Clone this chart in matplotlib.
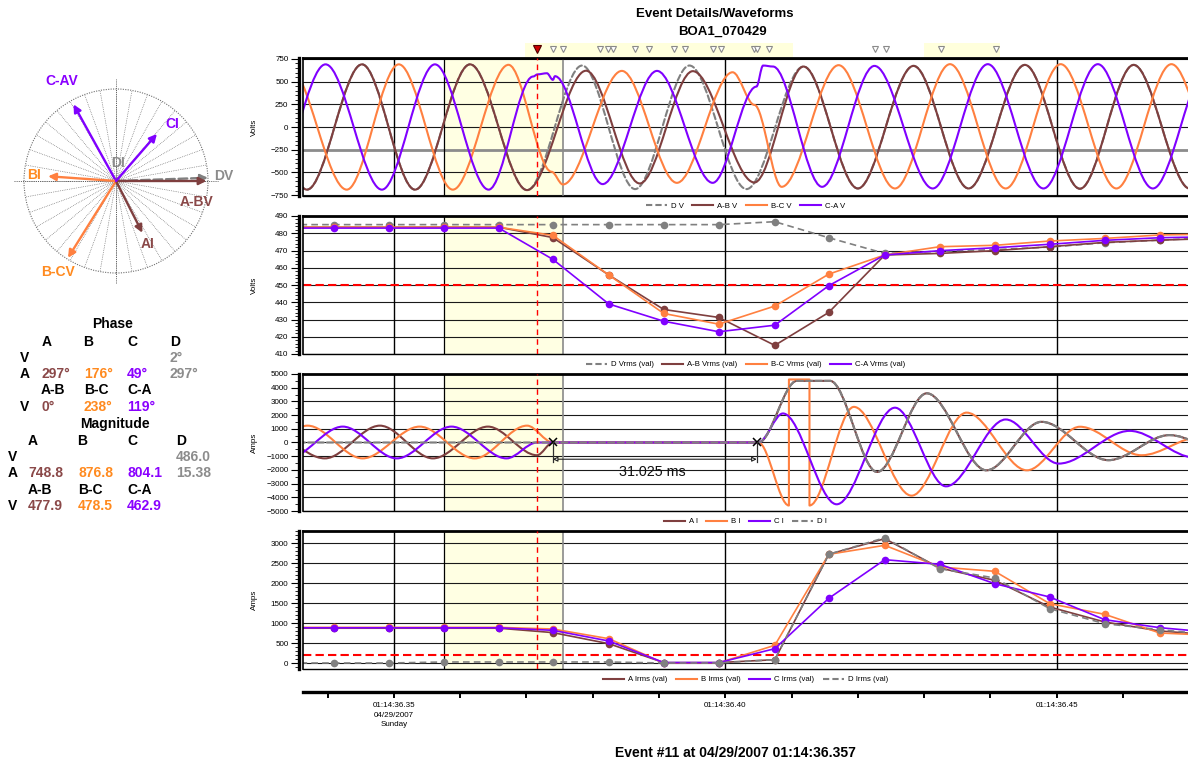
import numpy as np
import matplotlib
matplotlib.use("Agg")
import matplotlib.pyplot as plt
from matplotlib.path import Path
from matplotlib.patches import PathPatch, Circle
from matplotlib.lines import Line2D
from matplotlib.ticker import MultipleLocator, FixedLocator

plt.rcParams['font.family'] = ['Liberation Sans', 'DejaVu Sans']

# ---------------- data (time in ms after 01:14:36.35) ----------------
time_tick_ms = [0, 50, 100]
time_tick_labels = ['01:14:36.35\n04/29/2007\nSunday', '01:14:36.40', '01:14:36.45']
shade_ms = [7.5, 25.5]
trigger_ms = 21.6
event_marks_ms = [23.98, 25.49, 31.07, 32.28, 33.03, 36.35, 38.46, 42.23, 43.89,
                  48.11, 49.32, 54.3, 54.75, 56.56, 72.55, 74.21, 82.5, 90.8]

# Panel 1: voltage waveform extrema (ms, V)
dv_t = [-21.4, -13.1, -4.8, 3.2, 11.5, 20.1, 28.4, 36.4, 44.6, 53.2, 61.8, 70.0, 78.4, 86.7, 95.2, 103.5, 111.6, 120.1]
dv_v = [690, -690, 690, -690, 690, -695, 677, -684, 677, -684, 666, -677, 673, -677, 684, -680, 684, -680]
abv_t = [-21.4, -13.1, -4.8, 3.2, 11.5, 20.1, 29.0, 37.1, 45.1, 54.4, 61.8, 70.0, 78.4, 86.7, 95.2, 103.5, 111.6, 120.1]
abv_v = [690, -690, 690, -690, 690, -695, 620, -622, 615, -611, 666, -677, 673, -677, 684, -680, 684, -680]
bcv_t = [-16.0, -7.1, 0.75, 8.9, 17.3, 23.8, 25.5, 34.4, 42.7, 51.1, 54.4, 58.5, 67.1, 75.6, 83.9, 92.3, 100.6, 109.0, 117.3, 125.8]
bcv_v = [690, -690, 690, -690, 685, -493, -633, 618, -615, 603, 243, -659, 681, -677, 692, -677, 692, -677, 692, -677]
cav_t = [-18.6, -10.3, -1.8, 6.2, 14.3, 21.0, 21.7, 23.1, 24.0, 24.3, 31.5, 39.7, 48.1, 54.7, 55.7, 57.2, 64.6, 72.5, 81.3, 89.6, 98.0, 106.2, 114.5, 122.9]
cav_v = [-690, 690, -690, 690, -690, 556, 580, 592, 519, 560, -629, 618, -615, 445, 677, 666, -659, 673, -677, 692, -677, 692, -677, 692]

# Panel 2/4: half-cycle RMS values
rms_t = [-17.35, -9.05, -0.75, 7.54, 15.84, 23.98, 32.43, 40.72, 49.02, 57.47, 65.61, 74.06, 82.35, 90.65, 98.94, 107.24, 115.54, 123.84]
dv_rms = [485, 485, 485, 485, 485, 485, 485, 485, 485, 486.7, 477.4, 468.3, 469.5, 470.5, 472.0, 474.5, 476.0, 477.5]
abv_rms = [483.5, 483.5, 483.5, 483.5, 483.5, 477.5, 455.8, 435.8, 431.2, 415.0, 434.1, 467.4, 468.3, 469.9, 472.2, 474.7, 476.0, 477.0]
bcv_rms = [483.5, 483.5, 483.5, 483.5, 483.5, 478.8, 455.8, 433.5, 427.3, 437.8, 456.3, 467.4, 472.2, 473.0, 475.5, 477.0, 479.0, 479.5]
cav_rms = [483.0, 483.0, 483.0, 483.0, 483.0, 464.9, 439.0, 429.0, 422.9, 426.7, 449.6, 467.4, 469.9, 471.6, 473.6, 475.9, 477.4, 478.0]
v_limit = 450

# Panel 3: current waveform extrema (ms, A)
ai_t = [-20.1, -10.4, -2.1, 5.9, 14.2, 21.6, 24.0, 55.0, 60.8, 65.8, 72.9, 80.4, 89.4, 97.7, 107.8, 117.0, 125.3]
ai_v = [1230, -1160, 1230, -1160, 1160, -930, 0, 0, 4500, 4500, -2150, 3590, -2030, 1510, -1290, 540, -600]
bi_t = [-21.4, -13.0, -4.7, 3.9, 12.2, 20.1, 24.0, 55.0, 59.6, 59.6, 62.7, 62.7, 69.4, 78.1, 86.4, 95.5, 103.5, 112.8, 121.6]
bi_v = [-1160, 1230, -1160, 1160, -1160, 1230, 0, 0, -4600, 4600, 4600, -4600, 2600, -3880, 2180, -2030, 1150, -930, 400]
ci_t = [-16.0, -7.7, 0.45, 8.7, 17.0, 21.6, 55.0, 58.7, 66.8, 75.6, 83.3, 92.3, 100.3, 111.0, 120.8]
ci_v = [-1160, 1160, -1160, 1160, -1160, 0, 0, 2120, -4510, 2540, -3200, 1680, -1540, 850, -1100]
di_t = [-20.0, 55.0, 60.8, 65.8, 72.9, 80.4, 89.4, 97.7, 107.8, 117.0, 125.3]
di_v = [0, 0, 4500, 4500, -2150, 3590, -2030, 1510, -1290, 540, -600]
cursor_ms = [23.98, 54.75]
cursor_text = '31.025 ms'

ai_rms = [870, 870, 870, 870, 870, 760, 483, 10, 10, 83, 2717, 3108, 2375, 2067, 1400, 1025, 800, 700]
bi_rms = [890, 890, 890, 890, 890, 850, 608, 0, 5, 442, 2717, 2942, 2400, 2292, 1483, 1217, 750, 690]
ci_rms = [880, 880, 880, 880, 880, 817, 550, 10, 10, 358, 1617, 2583, 2467, 1983, 1650, 1083, 883, 760]
di_rms = [0, 0, 0, 25, 25, 25, 25, 0, 0, 83, 2717, 3133, 2358, 2125, 1358, 983, 833, 700]
i_limit = 200

# Phasor table
phase_cols = ['A', 'B', 'C', 'D']
ll_cols = ['A-B', 'B-C', 'C-A']
phase_dv = 2
phase_i = [297, 176, 49, 297]
phase_ll = [0, 238, 119]
mag_dv = 486.0
mag_i = [748.8, 876.8, 804.1, 15.38]
mag_ll = [477.9, 478.5, 462.9]

# ---------------- styling ----------------
BROWN = '#7f3f3f'
ORANGE = '#ff8040'
PURPLE = '#8000ff'
GRAY = '#808080'
TBROWN = '#8a4848'
TORANGE = '#ff8a1f'
TPURPLE = '#8a00ff'
TGRAY = '#8c8c8c'

W, H = 1188, 765
PX_L, PX_R = 303, 1188
XLIM = (-13.7, 119.8)

fig = plt.figure(figsize=(W / 100, H / 100), dpi=100)
fig.patch.set_facecolor('white')


def fx(x):
    return x / W


def fy(y):
    return 1 - y / H


def add_panel(top, bot):
    return fig.add_axes([fx(PX_L), fy(bot), (PX_R - PX_L) / W, (bot - top) / H])


def style_panel(ax, ylim, major, minor, ylabel, height_px):
    ax.set_xlim(XLIM)
    ax.set_ylim(ylim)
    ax.yaxis.set_major_locator(MultipleLocator(major))
    ax.yaxis.set_minor_locator(MultipleLocator(minor))
    ax.set_xticks([])
    ax.spines['right'].set_visible(False)
    ax.spines['top'].set_linewidth(2.0)
    ax.spines['bottom'].set_linewidth(1.0)
    ax.spines['left'].set_position(('outward', 3))
    ax.spines['left'].set_linewidth(2.4)
    ax.tick_params(axis='y', which='major', length=6, width=0.8, labelsize=5.8, pad=1.5)
    ax.tick_params(axis='y', which='minor', length=3, width=0.6)
    ax.grid(axis='y', which='major', color='#1a1a1a', lw=0.8)
    ax.set_axisbelow(True)
    ax.plot([0, 0], [0, 1], transform=ax.transAxes, color='black', lw=1.2, clip_on=False, zorder=5)
    ax.axvspan(shade_ms[0], shade_ms[1], color='#ffffe3', zorder=0, lw=0)
    for t, c, lw in [(time_tick_ms[0], 'black', 1.0), (shade_ms[0], 'black', 0.9),
                     (shade_ms[1], '#8a8a8a', 1.2), (time_tick_ms[1], 'black', 1.0),
                     (time_tick_ms[2], 'black', 1.0)]:
        ax.axvline(t, color=c, lw=lw, zorder=1)
    ax.axvline(trigger_ms, color='red', lw=1.0, ls=(0, (4, 3)), zorder=6)
    ax.set_ylabel(ylabel, fontsize=5.8)
    ax.yaxis.set_label_coords(-0.051, 0.5)


def draw_wave(ax, t, v, color, lw=1.5, ls='-', z=3):
    verts = [(t[0], v[0])]
    codes = [Path.MOVETO]
    for i in range(len(t) - 1):
        d = (t[i + 1] - t[i]) / 3.0
        verts += [(t[i] + d, v[i]), (t[i + 1] - d, v[i + 1]), (t[i + 1], v[i + 1])]
        codes += [Path.CURVE4] * 3
    ax.add_patch(PathPatch(Path(verts, codes), fill=False, edgecolor=color, lw=lw,
                           ls=ls, zorder=z, joinstyle='round', capstyle='round'))


def add_legend(ax, entries, height_px):
    handles = [Line2D([], [], color=c, lw=1.5, ls=ls) for c, ls, _ in entries]
    labels = [l for _, _, l in entries]
    ax.legend(handles, labels, loc='center', bbox_to_anchor=(0.5, -10.5 / height_px),
              ncol=4, frameon=False, fontsize=5.6, handlelength=2.7, handletextpad=0.5,
              columnspacing=1.1, borderaxespad=0, borderpad=0)


panels = [(58, 196), (216, 354), (374, 511), (531, 669)]

# ---- Panel 1 ----
top, bot = panels[0]
ax1 = add_panel(top, bot)
style_panel(ax1, (-760, 760), 250, 50, 'Volts', bot - top)
ax1.axhline(-250, color='#8c8c8c', lw=2.0, zorder=0.8)
draw_wave(ax1, dv_t, dv_v, GRAY, ls=(0, (3, 1.5)), z=3)
draw_wave(ax1, abv_t, abv_v, BROWN, z=3.1)
draw_wave(ax1, bcv_t, bcv_v, ORANGE, z=3.2)
draw_wave(ax1, cav_t, cav_v, PURPLE, z=3.3)
add_legend(ax1, [(GRAY, (0, (3, 1.5)), 'D V'), (BROWN, '-', 'A-B V'),
                 (ORANGE, '-', 'B-C V'), (PURPLE, '-', 'C-A V')], bot - top)

# ---- Panel 2 ----
top, bot = panels[1]
ax2 = add_panel(top, bot)
style_panel(ax2, (410, 490), 10, 2, 'Volts', bot - top)
ax2.axhline(v_limit, color='red', lw=1.5, ls=(0, (4, 2)), zorder=2)
mk = dict(marker='o', ms=5.5, mew=0)
ax2.plot(rms_t, dv_rms, color=GRAY, lw=1.2, ls=(0, (4, 2.5)), zorder=3, **mk)
ax2.plot(rms_t, abv_rms, color=BROWN, lw=1.2, zorder=3.1, **mk)
ax2.plot(rms_t, bcv_rms, color=ORANGE, lw=1.2, zorder=3.2, **mk)
ax2.plot(rms_t, cav_rms, color=PURPLE, lw=1.2, zorder=3.3, **mk)
add_legend(ax2, [(GRAY, (0, (3, 1.5)), 'D Vrms (val)'), (BROWN, '-', 'A-B Vrms (val)'),
                 (ORANGE, '-', 'B-C Vrms (val)'), (PURPLE, '-', 'C-A Vrms (val)')], bot - top)

# ---- Panel 3 ----
top, bot = panels[2]
ax3 = add_panel(top, bot)
style_panel(ax3, (-5000, 5000), 1000, 500, 'Amps', bot - top)
draw_wave(ax3, ai_t, ai_v, BROWN, z=3.0)
draw_wave(ax3, bi_t, bi_v, ORANGE, z=3.1)
draw_wave(ax3, ci_t, ci_v, PURPLE, z=3.2)
draw_wave(ax3, di_t, di_v, GRAY, ls=(0, (3, 1.5)), z=3.3)
ax3.plot(cursor_ms, [0, 0], 'x', color='black', ms=6, mew=1.1, zorder=7)
for t in cursor_ms:
    ax3.plot([t, t], [0, -1400], color='#303030', lw=0.9, zorder=7)
ax3.annotate('', xy=(cursor_ms[0], -1220), xytext=(cursor_ms[1], -1220),
             arrowprops=dict(arrowstyle='<|-|>', color='#202020', lw=0.8,
                             shrinkA=0, shrinkB=0, mutation_scale=7, fc='white'),
             zorder=7)
ax3.text(sum(cursor_ms) / 2 - 0.3, -2170, cursor_text, fontsize=10.3, ha='center',
         va='center', color='#111111', zorder=8)
add_legend(ax3, [(BROWN, '-', 'A I'), (ORANGE, '-', 'B I'),
                 (PURPLE, '-', 'C I'), (GRAY, (0, (3, 1.5)), 'D I')], bot - top)

# ---- Panel 4 ----
top, bot = panels[3]
ax4 = add_panel(top, bot)
style_panel(ax4, (-150, 3300), 500, 100, 'Amps', bot - top)
ax4.axhline(i_limit, color='red', lw=1.5, ls=(0, (4, 2)), zorder=2)
ax4.plot(rms_t, ai_rms, color=BROWN, lw=1.2, zorder=3.0, **mk)
ax4.plot(rms_t, bi_rms, color=ORANGE, lw=1.2, zorder=3.1, **mk)
ax4.plot(rms_t, ci_rms, color=PURPLE, lw=1.2, zorder=3.2, **mk)
ax4.plot(rms_t, di_rms, color=GRAY, lw=1.2, ls=(0, (4, 2.5)), zorder=3.3, **mk)
add_legend(ax4, [(BROWN, '-', 'A Irms (val)'), (ORANGE, '-', 'B Irms (val)'),
                 (PURPLE, '-', 'C Irms (val)'), (GRAY, (0, (3, 1.5)), 'D Irms (val)')], bot - top)

# ---- time axis ----
ax_t = fig.add_axes([fx(PX_L), fy(692), (PX_R - PX_L) / W, 0.0005])
ax_t.set_xlim(XLIM)
ax_t.set_ylim(0, 1)
for s in ['top', 'right', 'left']:
    ax_t.spines[s].set_visible(False)
ax_t.spines['bottom'].set_linewidth(2.4)
ax_t.set_yticks([])
ax_t.patch.set_visible(False)
ax_t.xaxis.set_major_locator(FixedLocator(time_tick_ms))
ax_t.set_xticklabels(time_tick_labels, fontsize=5.8, linespacing=1.5)
ax_t.xaxis.set_minor_locator(MultipleLocator(10))
ax_t.tick_params(axis='x', which='both', length=4, width=1.4, pad=3.5, direction='out')

# ---- event marker strip ----
ax_m = fig.add_axes([fx(PX_L), fy(57), (PX_R - PX_L) / W, 14 / H])
ax_m.set_xlim(XLIM)
ax_m.set_ylim(0, 1)
ax_m.axis('off')
ax_m.axvspan(19.8, 60.2, color='#ffffd4', alpha=0.8, lw=0)
ax_m.axvspan(80.0, 91.5, color='#ffffd4', alpha=0.8, lw=0)
ax_m.plot(event_marks_ms, [0.57] * len(event_marks_ms), 'v', ms=5, mfc='white',
          mec='#8a8a8a', mew=0.8, ls='none')
ax_m.plot([trigger_ms], [0.57], 'v', ms=6, mfc='#cc0000', mec='#500000', mew=0.8)

# ---- titles ----
fig.text(fx(715), fy(14), 'Event Details/Waveforms', fontsize=9.5, fontweight='bold',
         ha='center', va='center')
fig.text(fx(722), fy(32), 'BOA1_070429', fontsize=9.5, fontweight='bold',
         ha='center', va='center')
fig.text(fx(735), fy(753), 'Event #11 at 04/29/2007 01:14:36.357', fontsize=10,
         fontweight='bold', ha='center', va='center')

# ---- phasor diagram ----
ax_p = fig.add_axes([0, fy(300), 240 / W, 240 / H])
ax_p.set_xlim(-116, 124)
ax_p.set_ylim(-119, 121)
ax_p.axis('off')
R = 92
ax_p.add_patch(Circle((0, 0), R, fill=False, ec='#707070', lw=0.8, ls=(0, (1, 1.2))))
for ang in np.radians(np.arange(0, 360, 10)):
    ax_p.plot([0, R * np.cos(ang)], [0, R * np.sin(ang)], color='#5a5a5a', lw=0.5,
              ls=(0, (1, 1.6)))
ax_p.plot([-102, 102], [0, 0], color='#5a5a5a', lw=0.7, ls=(0, (1, 1.2)))
ax_p.plot([0, 0], [-102, 102], color='#5a5a5a', lw=0.7, ls=(0, (1, 1.2)))

v_scale = R / mag_dv
i_scale = 0.0776
phasors = [
    (mag_dv, phase_dv, GRAY, '--', v_scale),
    (mag_ll[0], phase_ll[0], BROWN, '-', v_scale),
    (mag_ll[1], phase_ll[1], ORANGE, '-', v_scale),
    (mag_ll[2], phase_ll[2], PURPLE, '-', v_scale),
    (mag_i[0], phase_i[0], BROWN, '-', i_scale),
    (mag_i[1], phase_i[1], ORANGE, '-', i_scale),
    (mag_i[2], phase_i[2], PURPLE, '-', i_scale),
]
for mag, ang, col, ls, sc in phasors:
    a = np.radians(ang)
    ax_p.annotate('', xy=(mag * sc * np.cos(a), mag * sc * np.sin(a)), xytext=(0, 0),
                  arrowprops=dict(arrowstyle='-|>', color=col, lw=1.7, ls=ls,
                                  shrinkA=0, shrinkB=0, mutation_scale=11))
plabels = [('C-AV', -54, 100, TPURPLE), ('CI', 56, 57, TPURPLE), ('DI', 2, 18, TGRAY),
           ('DV', 108, 5, TGRAY), ('BI', -82, 6, TORANGE), ('A-BV', 81, -21, TBROWN),
           ('AI', 32, -63, TBROWN), ('B-CV', -58, -91, TORANGE)]
for txt, x, y, c in plabels:
    ax_p.text(x, y, txt, color=c, fontsize=10, fontweight='bold', ha='center', va='center')

# ---- phase / magnitude tables ----
tcol = [TBROWN, TORANGE, TPURPLE, TGRAY]
TF = 10


def t_(x, y, s, c='black', ha='left'):
    fig.text(fx(x), fy(y), s, fontsize=TF, fontweight='bold', color=c, ha=ha, va='center')


t_(113, 324, 'Phase', ha='center')
for x, s in zip([47, 88, 132, 175], phase_cols):
    t_(x, 342, s, ha='center')
t_(25, 358, 'V', ha='center')
t_(169, 358, f'{phase_dv}°', TGRAY)
t_(25, 374, 'A', ha='center')
for x, val, c in zip([41, 84, 127, 169], phase_i, tcol):
    t_(x, 374, f'{val}°', c)
for x, s in zip([41, 84, 127], ll_cols):
    t_(x, 390, s)
t_(25, 407, 'V', ha='center')
for x, val, c in zip([41, 84, 127], phase_ll, tcol):
    t_(x, 407, f'{val}°', c)

t_(115, 424, 'Magnitude', ha='center')
for x, s in zip([33, 82, 132, 181], phase_cols):
    t_(x, 441, s, ha='center')
t_(13, 457, 'V', ha='center')
t_(176, 457, f'{mag_dv:.1f}', TGRAY)
t_(13, 473, 'A', ha='center')
for x, val, c in zip([28, 78, 127, 176], mag_i, tcol):
    t_(x, 473, f'{val:.2f}' if val < 100 else f'{val:.1f}', c)
for x, s in zip([28, 78, 127], ll_cols):
    t_(x, 490, s)
t_(13, 506, 'V', ha='center')
for x, val, c in zip([28, 78, 127], mag_ll, tcol):
    t_(x, 506, f'{val:.1f}', c)

fig.savefig('out.png', dpi=100, facecolor='white')
